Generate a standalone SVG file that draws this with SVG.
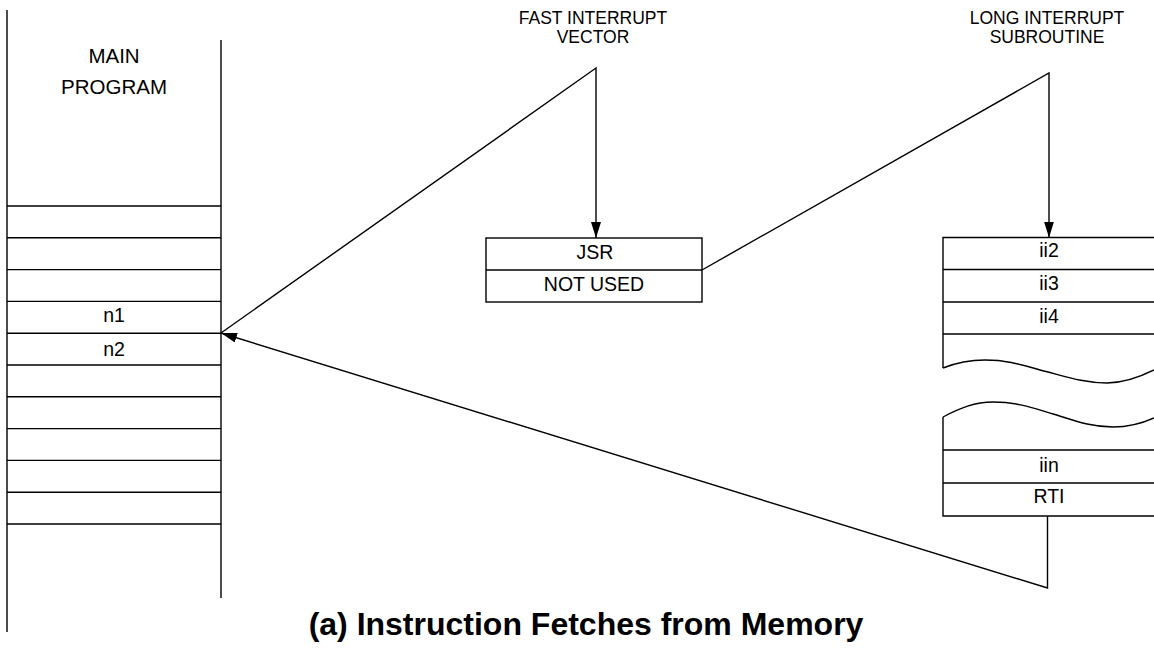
<svg xmlns="http://www.w3.org/2000/svg" width="1154" height="650" viewBox="0 0 1154 650">
<style>
.ln{stroke:#000;stroke-width:1.4;fill:none}
.t{font-family:"Liberation Sans",Arial,sans-serif;font-size:19.5px;fill:#000;text-anchor:middle}
.m{font-family:"Liberation Sans",Arial,sans-serif;font-size:20.5px;fill:#000;text-anchor:middle}
.h{font-family:"Liberation Sans",Arial,sans-serif;font-size:17.5px;fill:#000;text-anchor:middle}
.title{font-family:"Liberation Sans",Arial,sans-serif;font-size:32px;font-weight:bold;fill:#000;text-anchor:middle}
</style>
<defs>
<marker id="ah" viewBox="0 0 16 10" refX="16" refY="5" markerWidth="16" markerHeight="10" markerUnits="userSpaceOnUse" orient="auto">
<path d="M0,0 L16,5 L0,10 Z" fill="#000"/>
</marker>
</defs>
<rect width="1154" height="650" fill="#fff"/>
<g id="main-program">
<line class="ln" x1="7" y1="10" x2="7" y2="632"/>
<line class="ln" x1="221" y1="40" x2="221" y2="598"/>
<text class="m" x="114" y="63">MAIN</text>
<text class="m" x="114" y="94">PROGRAM</text>
<path class="ln" d="M7,206H221M7,237.8H221M7,269.6H221M7,301.4H221M7,333.2H221M7,365H221M7,396.8H221M7,428.6H221M7,460.4H221M7,492.2H221M7,524H221"/>
<text class="t" x="114" y="322">n1</text>
<text class="t" x="114" y="356">n2</text>
</g>
<g id="fast-interrupt-vector">
<text class="h" x="593" y="23.5">FAST INTERRUPT</text>
<text class="h" x="593" y="43">VECTOR</text>
<rect class="ln" x="486" y="238" width="216" height="64"/>
<line class="ln" x1="486" y1="270" x2="702" y2="270"/>
<text class="t" x="595" y="259">JSR</text>
<text class="t" x="594" y="291">NOT USED</text>
</g>
<g id="long-interrupt-subroutine">
<text class="h" x="1047" y="23.5">LONG INTERRUPT</text>
<text class="h" x="1047" y="43">SUBROUTINE</text>
<path class="ln" d="M1154,237.5H943V368M943,269.5H1154M943,302H1154M943,334H1154"/>
<path class="ln" d="M943,368 C958,362 970,360 985,360 C1010,360 1025,366 1046,371.5 C1067,377 1085,383 1107,383 C1125,383 1140,377 1154,370"/>
<path class="ln" d="M943,417 C960,408 975,402 993,402 C1018,402 1033,408 1053,414 C1073,420 1090,427 1113,427 C1130,427 1143,423 1154,418"/>
<path class="ln" d="M943,417V516H1154M943,450H1154M943,483H1154"/>
<text class="t" x="1049" y="257">ii2</text>
<text class="t" x="1049" y="290">ii3</text>
<text class="t" x="1049" y="323">ii4</text>
<text class="t" x="1049" y="472">iin</text>
<text class="t" x="1049" y="503">RTI</text>
</g>
<g id="connectors">
<polyline class="ln" points="221,333 596,68 596,238" marker-end="url(#ah)"/>
<polyline class="ln" points="702,270 1049,73 1049,237.5" marker-end="url(#ah)"/>
<polyline class="ln" points="1047.5,516 1047.5,588 221,333" marker-end="url(#ah)"/>
</g>
<g id="caption">
<text class="title" x="586" y="635">(a) Instruction Fetches from Memory</text>
</g>
</svg>
